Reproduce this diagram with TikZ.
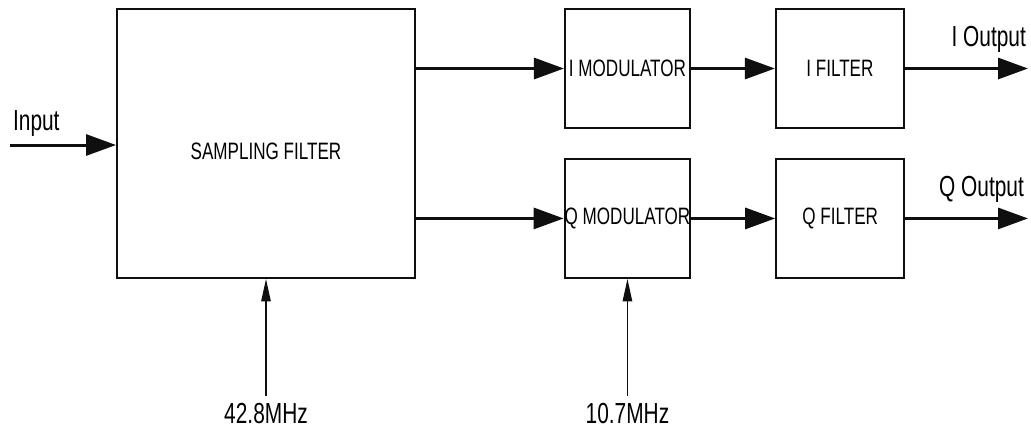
\documentclass[tikz,border=0pt]{standalone}
\usepackage{fontspec}
\setmainfont{Liberation Sans}[FakeStretch=0.72]
\usepackage{tikz}
\usetikzlibrary{arrows.meta,positioning}
\definecolor{bdedge}{RGB}{15,15,15}
\tikzset{
  bdbox/.style={
    draw=bdedge, line width=1.1pt, align=center, inner sep=0pt,
    font=\fontsize{13.5}{16}\selectfont
  },
  bigbox/.style={bdbox, minimum width=59.6mm, minimum height=53.8mm, text height=6.4mm},
  modbox/.style={bdbox, minimum width=25mm, minimum height=23.8mm},
  filbox/.style={bdbox, minimum width=25.6mm, minimum height=23.8mm},
  arr/.style={-{Triangle[length=6mm,width=4.2mm]}, draw=bdedge, line width=1.7pt},
  clk/.style={-{Triangle[length=4.5mm,width=1.9mm]}, draw=bdedge, line width=0.7pt},
  lbl/.style={font=\fontsize{16.5}{19}\selectfont, inner sep=1pt},
  clklbl/.style={lbl, inner ysep=4pt}
}
\begin{document}
\begin{tikzpicture}[x=0.2mm, y=-0.2mm, node distance=5.8mm]
  \useasboundingbox (0,0) rectangle (1031,430);
  \node[bigbox] (sf) at (266,143.5) {SAMPLING FILTER};
  \node[modbox, below right=0mm and 29.6mm of sf.north east] (imod) {I MODULATOR};
  \node[modbox, below=of imod] (qmod) {Q MODULATOR};
  \node[filbox, right=16.8mm of imod] (ifil) {I FILTER};
  \node[filbox, right=16.8mm of qmod] (qfil) {Q FILTER};
  % inputs and outputs
  \coordinate (in) at (10,145);
  \coordinate (out) at (1028,0);
  \node[lbl, anchor=base west] (inlbl) at (11,130) {Input};
  \node[lbl, anchor=base east] (iolbl) at (1028,46) {I Output};
  \node[lbl, anchor=base east] (qolbl) at (1026,196) {Q Output};
  \node[clklbl, below=29mm of sf.south, anchor=base] (f42) {42.8MHz};
  \node[clklbl, below=29mm of qmod.south, anchor=base] (f107) {10.7MHz};
  \draw[arr] (in) -- (in -| sf.west);
  \draw[arr] (sf.east |- imod) -- (imod);
  \draw[arr] (sf.east |- qmod) -- (qmod);
  \foreach \p/\q in {imod/ifil,qmod/qfil} \draw[arr] (\p) -- (\q);
  \draw[arr] (ifil) -- (ifil -| out);
  \draw[arr] (qfil) -- (qfil -| out);
  \draw[clk] (f42) -- (sf);
  \draw[clk] (f107) -- (qmod);
\end{tikzpicture}
\end{document}
